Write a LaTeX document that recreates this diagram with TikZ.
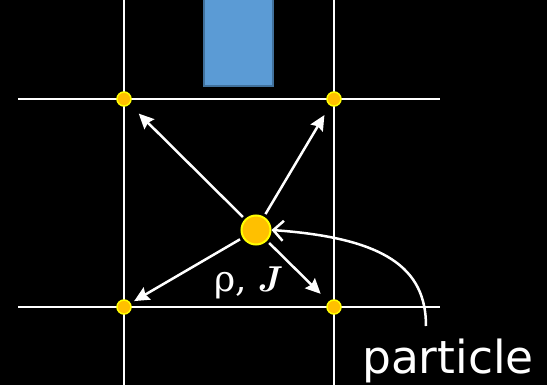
\documentclass[tikz,border=0pt]{standalone}
\usepackage{fontspec}
\usetikzlibrary{arrows.meta}
\newfontfamily\lblsans{DejaVu Sans}
\newfontfamily\grkserif{DejaVu Serif}
\definecolor{dotfill}{HTML}{FFC000}
\definecolor{dotedge}{HTML}{FFFF00}
\definecolor{blockfill}{HTML}{5B9BD5}
\definecolor{blockedge}{HTML}{41719C}
\begin{document}
\begin{tikzpicture}[x=1pt,y=-1pt,
  gridline/.style={draw=white,line width=2pt},
  smalldot/.style={circle,fill=dotfill,draw=dotedge,line width=1.5pt,minimum size=14pt,inner sep=0pt},
  bigdot/.style={circle,fill=dotfill,draw=dotedge,line width=2pt,minimum size=29pt,inner sep=0pt},
  spread/.style={draw=white,line width=2.5pt,-{Stealth[length=15pt,width=14pt,inset=2pt]}},
  pointer/.style={draw=white,line width=2.5pt,-{Straight Barb[length=10pt,width=20pt]}}]
\useasboundingbox[fill=black] (0,0) rectangle (547,385);
% grid
\coordinate (vlT) at (124,0); \coordinate (vlB) at (124,385);
\coordinate (vrT) at (334,0); \coordinate (vrB) at (334,385);
\coordinate (htL) at (18,99); \coordinate (htR) at (440,99);
\coordinate (hbL) at (18,307); \coordinate (hbR) at (440,307);
\draw[gridline] (vlT) -- (vlB);
\draw[gridline] (vrT) -- (vrB);
\draw[gridline] (htL) -- (htR);
\draw[gridline] (hbL) -- (hbR);
% block
\draw[fill=blockfill,draw=blockedge,line width=2pt] (204,-2) rectangle (273,86);
% dots
\node[smalldot] (d1) at (124,99) {};
\node[smalldot] (d2) at (334,99) {};
\node[smalldot] (d3) at (124,307) {};
\node[smalldot] (d4) at (334,307) {};
\node[bigdot] (p) at (256,230) {};
% arrows
\draw[spread,shorten <=3pt,shorten >=13pt] (p) -- (d1);
\draw[spread,shorten <=3pt,shorten >=11pt] (p) -- (d2);
\draw[spread,shorten <=3pt,shorten >=4pt] (p) -- (d3);
\draw[spread,shorten <=3pt,shorten >=11pt] (p) -- (d4);
% label
\node[text=white,inner sep=0pt,anchor=base west] (rj) at (214,292) {\fontsize{36}{36}\selectfont{\grkserif ρ,} \textbf{\textit{J}}};
% particle pointer
\coordinate (ps) at (426,326);
\draw[pointer] (ps) .. controls (426,268) and (385,238) .. (p.east);
\node[text=white,inner sep=0pt,anchor=base west] (pt) at (362,373) {\fontsize{45.5}{45.5}\selectfont\lblsans particle};
\end{tikzpicture}
\end{document}
